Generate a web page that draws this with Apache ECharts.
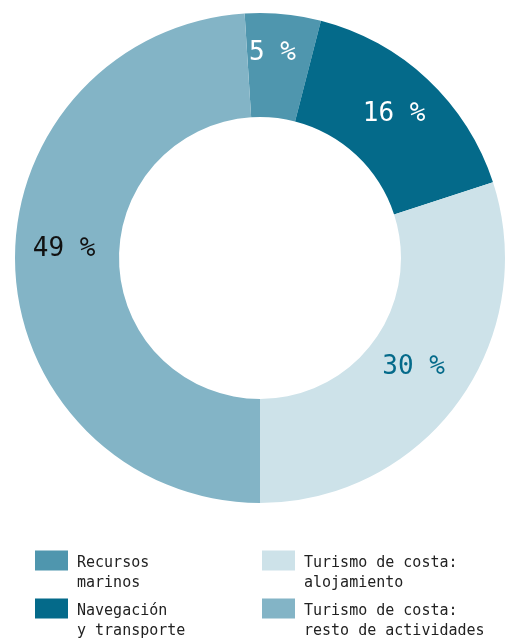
<!DOCTYPE html>
<html>
<head>
<meta charset="utf-8">
<script src="https://cdn.jsdelivr.net/npm/echarts@6/dist/echarts.min.js"></script>
<style>
  html, body { margin: 0; padding: 0; background: #fff; }
  #chart { width: 512px; height: 641px; }
</style>
</head>
<body>
<div id="chart"></div>
<script>
// data
const categories = [
  'Recursos\nmarinos',
  'Navegación\ny transporte',
  'Turismo de costa:\nalojamiento',
  'Turismo de costa:\nresto de actividades'
]
const values = [5, 16, 30, 49]

// style
const colors = ['#4f96ae', '#046a8a', '#cde2e9', '#83b4c6']
const labelColors = ['#fff', '#fff', '#046a8a', '#111']
const labelOffsets = [[-6, -10], [0, -1], [-5, -6], [0, -15]]
// legend slot per category: [left, top]
const legendPos = [[35, 533], [35, 581], [262, 533], [262, 581]]

const font = 'DejaVu Sans Mono'

const chart = echarts.init(document.getElementById('chart'))

// the empty first line pushes the text down so it starts at the swatch top
const legends = categories.map((name, i) => ({
  orient: 'vertical',
  left: legendPos[i][0],
  top: legendPos[i][1],
  padding: 0,
  itemWidth: 33,
  itemHeight: 20,
  icon: 'rect',
  selectedMode: false,
  data: [name],
  formatter: n => '{e| }\n' + n.split('\n').map(s => '{t|' + s + '}').join('\n'),
  textStyle: {
    fontFamily: font,
    fontSize: 15,
    color: '#222',
    padding: [0, 0, 0, 4],
    rich: {
      e: { fontSize: 15, lineHeight: 26 },
      t: { fontFamily: font, fontSize: 15, lineHeight: 20, color: '#222' }
    }
  }
}))

chart.setOption({
  animation: false,
  legend: legends,
  series: [
    {
      type: 'pie',
      center: [260, 258],
      radius: [141, 245],
      startAngle: 93.6,
      clockwise: true,
      avoidLabelOverlap: false,
      itemStyle: { borderWidth: 0 },
      labelLine: { show: false },
      label: {
        show: true,
        position: 'inside',
        fontFamily: font,
        fontSize: 26,
        formatter: p => p.value + ' %'
      },
      emphasis: { disabled: true },
      data: values.map((v, i) => ({
        name: categories[i],
        value: v,
        itemStyle: { color: colors[i] },
        label: { color: labelColors[i], offset: labelOffsets[i] }
      }))
    }
  ]
})
</script>
</body>
</html>
